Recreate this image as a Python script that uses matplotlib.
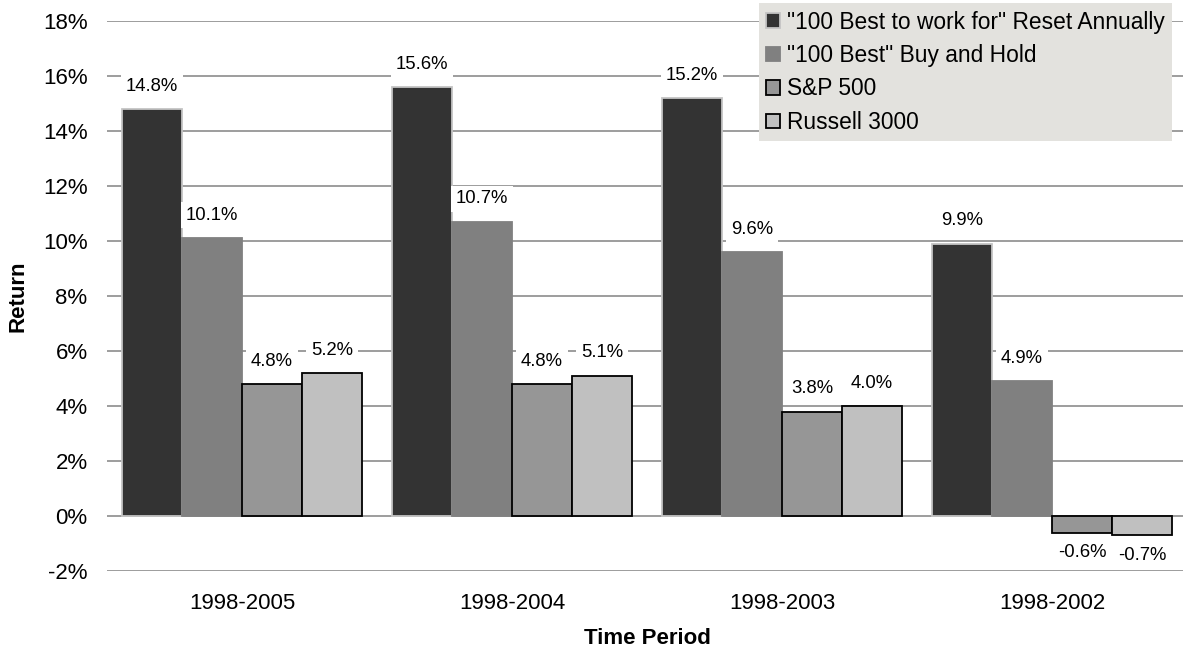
import numpy as np
import matplotlib
matplotlib.use("Agg")
import matplotlib.pyplot as plt
from matplotlib.ticker import FuncFormatter

plt.rcParams["font.family"] = ["Liberation Sans", "DejaVu Sans"]

periods = ["1998-2005", "1998-2004", "1998-2003", "1998-2002"]
series = [
    '"100 Best to work for" Reset Annually',
    '"100 Best" Buy and Hold',
    "S&P 500",
    "Russell 3000",
]
reset_annually = [14.8, 15.6, 15.2, 9.9]
buy_and_hold = [10.1, 10.7, 9.6, 4.9]
sp500 = [4.8, 4.8, 3.8, -0.6]
russell3000 = [5.2, 5.1, 4.0, -0.7]

values = [reset_annually, buy_and_hold, sp500, russell3000]
colors = ["#333333", "#808080", "#969696", "#c0c0c0"]
edges = ["#c4c4c4", "#808080", "black", "black"]

W, H = 1183, 652
fig = plt.figure(figsize=(W / 100, H / 100), dpi=100)
ax = fig.add_axes([107 / W, (H - 571) / H, 1080 / W, 550 / H])

x = np.arange(len(periods))
width = 60 / 270
handles = []
for i, (vals, c, e) in enumerate(zip(values, colors, edges)):
    bars = ax.bar(x + (i - 1.5) * width, vals, width, color=c, edgecolor=e,
                  linewidth=1.3, zorder=3, label=series[i])
    handles.append(bars)
    for xb, v in zip(x + (i - 1.5) * width, vals):
        off = 16.5 if v >= 0 else -14.5
        ax.annotate(f"{v:.1f}%", (xb, v), xytext=(0, off), textcoords="offset points",
                    ha="center", va="center", fontsize=13.3, zorder=4,
                    bbox=dict(boxstyle="square,pad=0.25", fc="white", ec="none"))

ax.set_xlim(-0.5, 3.5)
ax.set_ylim(-2, 18)
ax.set_yticks(np.arange(-2, 19, 2))
ax.yaxis.set_major_formatter(FuncFormatter(lambda v, p: f"{v:.0f}%"))
ax.set_xticks(x, periods)
ax.tick_params(axis="both", length=0, labelsize=16)
ax.tick_params(axis="y", pad=14)
ax.tick_params(axis="x", pad=16)
ax.grid(axis="y", color="#8c8c8c", linewidth=1.2, zorder=0)
ax.set_axisbelow(True)
for s in ax.spines.values():
    s.set_visible(False)

# axis titles placed in figure pixels
fig.text(647 / W, 1 - 639 / H, "Time Period", ha="center", va="center",
         fontsize=16, fontweight="bold")
fig.text(18 / W, 1 - 296 / H, "Return", rotation=90, ha="center", va="center",
         fontsize=16, fontweight="bold")

leg = ax.legend(handles=handles, loc="upper right",
                bbox_to_anchor=(1172 / W, 1 - 3 / H), bbox_transform=fig.transFigure,
                fontsize=16.4, frameon=True, fancybox=False, framealpha=1,
                facecolor="#e3e2de", edgecolor="none", handlelength=0.6,
                handleheight=0.6, handletextpad=0.3, labelspacing=0.46,
                borderpad=0.33, borderaxespad=0)
leg.set_zorder(10)

fig.savefig("out.png", dpi=100)
